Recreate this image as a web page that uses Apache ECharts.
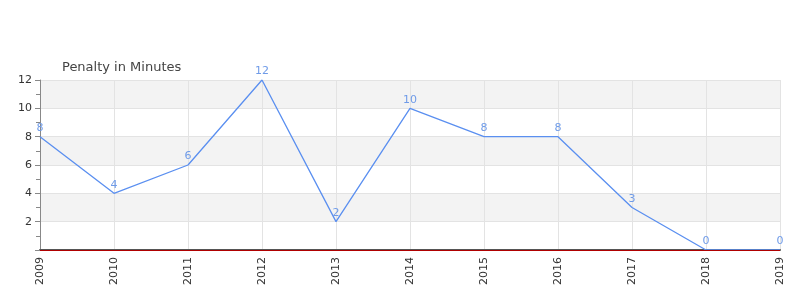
<!DOCTYPE html>
<html><head><meta charset="utf-8">
<script src="https://cdn.jsdelivr.net/npm/echarts@6/dist/echarts.min.js"></script>
<style>html,body{margin:0;padding:0;background:#fff}#c{width:800px;height:300px}</style>
</head><body><div id="c"></div>
<script>
var categories = ['2009','2010','2011','2012','2013','2014','2015','2016','2017','2018','2019'];
var values = [8,4,6,12,2,10,8,8,3,0,0];
var seriesName = 'Penalty in Minutes';
var chart = echarts.init(document.getElementById('c'));
chart.setOption({
  animation: false,
  title: {text: seriesName, left: 57, top: 56, textStyle: {fontSize: 13, fontWeight: 'normal', color: '#444', fontFamily: 'DejaVu Sans'}},
  grid: {left: 40, right: 20, top: 80, bottom: 50},
  xAxis: {
    type: 'category', data: categories, boundaryGap: false, offset: 1,
    axisLine: {lineStyle: {color: '#555', width: 2}},
    axisTick: {show: false},
    axisLabel: {rotate: 90, fontSize: 11, color: '#333', fontFamily: 'DejaVu Sans', margin: 6},
    splitLine: {show: true, lineStyle: {color: '#e3e3e3'}}
  },
  yAxis: {
    type: 'value', min: 0, max: 12, interval: 2,
    axisLine: {show: true, lineStyle: {color: '#888'}},
    axisTick: {show: true, length: 5, lineStyle: {color: '#888'}},
    minorTick: {show: true, splitNumber: 2, length: 4, lineStyle: {color: '#888'}},
    axisLabel: {fontSize: 11, color: '#333', fontFamily: 'DejaVu Sans', margin: 8,
      formatter: function (v) { return v === 0 ? '' : v; }},
    splitLine: {show: true, lineStyle: {color: '#e3e3e3'}},
    splitArea: {show: true, areaStyle: {color: ['#ffffff', '#f3f3f3']}}
  },
  series: [{
    type: 'line', name: seriesName, data: values,
    symbol: 'circle', symbolSize: 0.1, showSymbol: true,
    itemStyle: {color: '#5a8ff0', borderWidth: 0},
    lineStyle: {color: '#5a8ff0', width: 1.3},
    label: {show: true, position: 'top', distance: 3, fontSize: 11, color: '#6f9be8', fontFamily: 'DejaVu Sans'},
    markLine: {silent: true, symbol: 'none', label: {show: false},
      lineStyle: {color: '#b00000', width: 1, type: 'solid'},
      data: [{yAxis: 0}]}
  }]
});
</script></body></html>
